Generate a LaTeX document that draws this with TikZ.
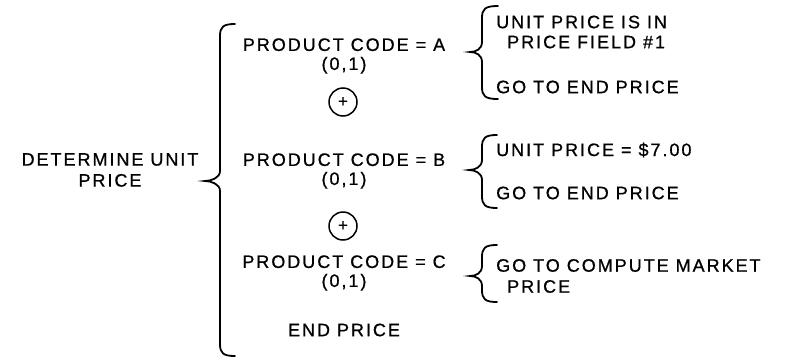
\documentclass[tikz,border=0pt]{standalone}
\usepackage{fontspec}
\setmainfont[LetterSpace=11,FakeBold=0.8]{Liberation Sans}
\usepackage{tikz}
\usetikzlibrary{positioning}

% curly brace: x of stem, top y, bottom y, tip y, tip depth, end reach
\newcommand{\curly}[6]{%
\draw[brc] (#1+#6,#2) .. controls (#1+3,#2) and (#1,#2+3) .. (#1,#2+12)
  -- (#1,#4-10) .. controls (#1,#4-3) and (#1-#5+6,#4) .. (#1-#5,#4)
  .. controls (#1-#5+6,#4) and (#1,#4+3) .. (#1,#4+10)
  -- (#1,#3-12) .. controls (#1,#3-3) and (#1+3,#3) .. (#1+#6,#3);}

\begin{document}
\begin{tikzpicture}[x=1pt,y=-1pt,
  txt/.style={inner sep=0pt,font=\fontsize{18}{19}\selectfont},
  lft/.style={txt,anchor=west,align=left},
  mid/.style={txt,align=center},
  orbox/.style={draw,circle,line width=1.5pt,minimum size=28pt,inner sep=0pt,font=\fontsize{17}{17}\selectfont},
  brc/.style={line width=1.8pt,line cap=round}]
\useasboundingbox (0,0) rectangle (786,359);

\node[mid,font=\fontsize{18}{21}\selectfont] (det) at (110,170) {DETERMINE UNIT\\PRICE};

\node[mid] (pa) at (344,56) {PRODUCT CODE = A\\(0,1)};
\node[orbox] (or1) at (343,102) {+};
\node[mid] (pb) at (344,171) {PRODUCT CODE = B\\(0,1)};
\node[orbox] (or2) at (343,226) {+};
\node[mid] (pc) at (344,273) {PRODUCT CODE = C\\(0,1)};
\node[mid] (endp) at (344,330) {END PRICE};

\node[lft,font=\fontsize{18}{20}\selectfont] (ua) at (496,32) {UNIT PRICE IS IN\\\hspace{11pt}PRICE FIELD \#1};
\node[lft] (ga) at (496,87) {GO TO END PRICE};
\node[lft] (ub) at (496,150) {UNIT PRICE = \$7.00};
\node[lft] (gb) at (496,193) {GO TO END PRICE};
\node[lft,font=\fontsize{18}{21}\selectfont] (gc) at (496,276) {GO TO COMPUTE MARKET\\\hspace{11pt}PRICE};

\curly{220}{24}{356}{181}{15}{15}
\curly{482}{6}{99}{52}{12}{16}
\curly{482}{135}{208}{170}{13}{15}
\curly{482}{245}{302}{276}{12}{15}
\end{tikzpicture}
\end{document}
